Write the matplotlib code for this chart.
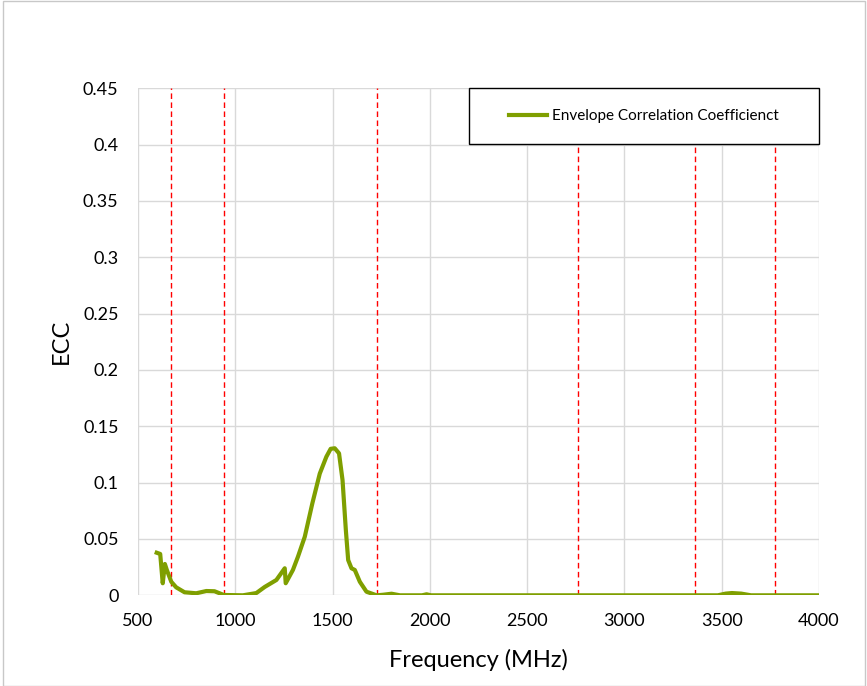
import matplotlib

matplotlib.use("Agg")
import matplotlib.pyplot as plt
from matplotlib.patches import Rectangle

# ECC curve (frequency in MHz)
freq_mhz = [596, 614, 627, 638, 648, 671, 696, 739, 799, 851, 893, 941, 1039, 1108,
            1151, 1211, 1254, 1259, 1296, 1322, 1357, 1396, 1434, 1468, 1490, 1511,
            1533, 1551, 1568, 1580, 1597, 1614, 1640, 1674, 1726, 1760, 1803, 1846,
            1960, 1983, 2005, 2500, 3000, 3480, 3520, 3552, 3600, 3650, 3700, 4000]
ecc = [0.0378, 0.0367, 0.0107, 0.0278, 0.0225, 0.0120, 0.0071, 0.0027, 0.0018,
       0.0038, 0.0036, 0.0003, 0.0000, 0.0020, 0.0074, 0.0136, 0.0240, 0.0107,
       0.0225, 0.0343, 0.0520, 0.0817, 0.1080, 0.1230, 0.1300, 0.1305, 0.1260,
       0.1023, 0.0580, 0.0313, 0.0240, 0.0225, 0.0120, 0.0032, 0.0000, 0.0005,
       0.0014, 0.0000, 0.0000, 0.0009, 0.0000, 0.0000, 0.0000, 0.0000, 0.0015,
       0.0020, 0.0015, 0.0000, 0.0000, 0.0000]

# band edges marked with dashed red lines
band_edges = [669, 941, 1726, 2763, 3365, 3772]

x_ticks = [500, 1000, 1500, 2000, 2500, 3000, 3500, 4000]
y_ticks = [0, 0.05, 0.1, 0.15, 0.2, 0.25, 0.3, 0.35, 0.4, 0.45]
y_tick_labels = ["0", "0.05", "0.1", "0.15", "0.2", "0.25", "0.3", "0.35", "0.4", "0.45"]

plt.rcParams["font.family"] = ["Lato", "DejaVu Sans"]

fig = plt.figure(figsize=(8.67, 6.86), dpi=100)
ax = fig.add_axes([0.1592, 0.1322, 0.7855, 0.7391])

for edge in band_edges:
    ax.axvline(edge, color="#ff0000", linewidth=1.0, linestyle=(0, (4, 2.5)), zorder=2)

ax.plot(freq_mhz, ecc, color="#7f9f00", linewidth=3.0, solid_joinstyle="round",
        label="Envelope Correlation Coefficienct", zorder=3)

ax.set_xlim(500, 4000)
ax.set_ylim(0, 0.45)
ax.set_xticks(x_ticks)
ax.set_yticks(y_ticks)
ax.set_yticklabels(y_tick_labels)
ax.tick_params(axis="both", length=0, labelsize=13, colors="#000000")
ax.tick_params(axis="y", pad=14)
ax.tick_params(axis="x", pad=13)
ax.grid(True, color="#d9d9d9", linewidth=1.0, zorder=0)
ax.set_axisbelow(True)
for spine in ax.spines.values():
    spine.set_visible(False)

ax.set_xlabel("Frequency (MHz)", fontsize=17, labelpad=14)
ax.set_ylabel("ECC", fontsize=17, labelpad=8)

# legend box sits in the top right corner of the plot area
ax.add_patch(Rectangle((0.486, 0.890), 0.514, 0.110, transform=ax.transAxes,
                       fill=True, facecolor="white", edgecolor="#000000",
                       linewidth=1.0, clip_on=False, zorder=4))
leg = ax.legend(loc="center", bbox_to_anchor=(0.743, 0.945), frameon=False,
                fontsize=11, handlelength=2.5, handletextpad=0.35)
leg.set_zorder(5)

# outer chart border
fig.patches.append(Rectangle((0.004, 0.0), 0.994, 0.998, transform=fig.transFigure,
                             fill=False, edgecolor="#c8c8c8", linewidth=1.0))

fig.savefig("out.png", dpi=100)
